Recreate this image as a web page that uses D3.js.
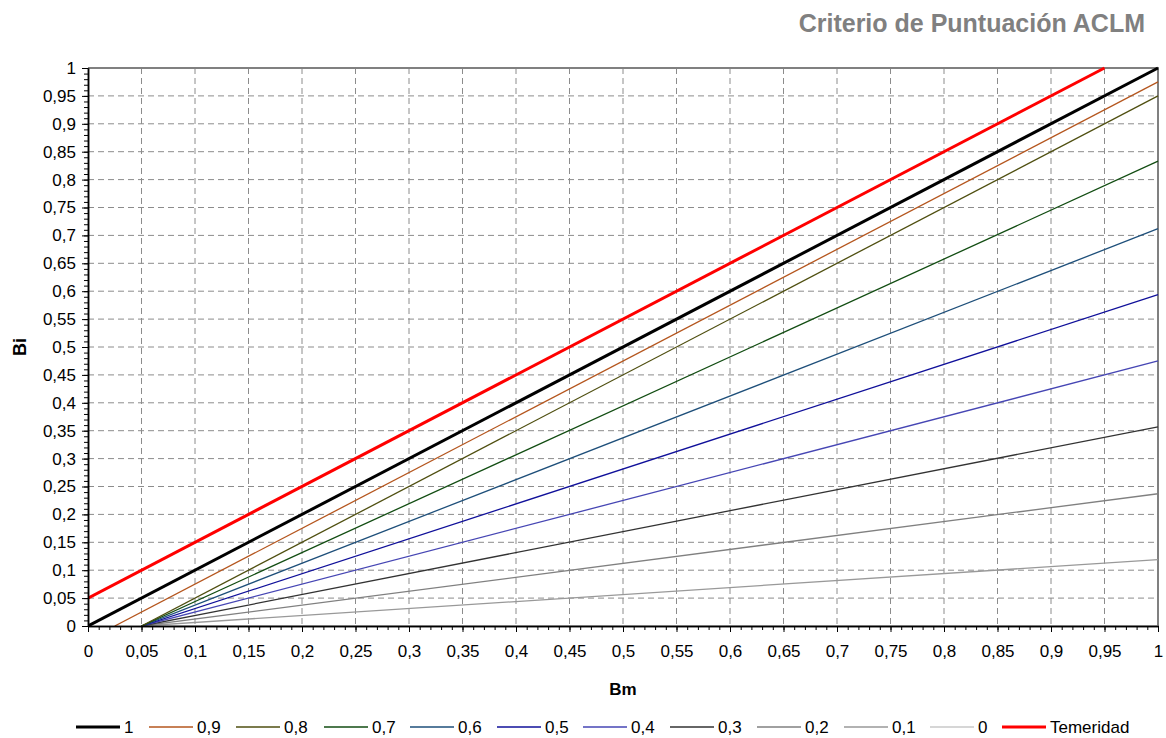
<!DOCTYPE html>
<html><head><meta charset="utf-8">
<script src="https://cdn.jsdelivr.net/npm/d3@7"></script>
<style>body{margin:0;background:#fff;} svg{display:block;font-family:"Liberation Sans",Arial,sans-serif;}</style>
</head><body><svg id="c" width="1166" height="738"></svg>
<script>
const title = "Criterio de Puntuación ACLM";
const xTicks = [0,0.05,0.1,0.15,0.2,0.25,0.3,0.35,0.4,0.45,0.5,0.55,0.6,0.65,0.7,0.75,0.8,0.85,0.9,0.95,1];
const yTicks = xTicks;
const seriesNames = ["1","0,9","0,8","0,7","0,6","0,5","0,4","0,3","0,2","0,1","0","Temeridad"];
const seriesColors = ["#000000","#b5561e","#4f4f10","#124d12","#1e4f7a","#10109a","#4646b4","#333333","#808080","#999999","#c8c8c8","#ff0000"];
const seriesWidths = [3,1.3,1.3,1.3,1.3,1.3,1.3,1.3,1.3,1.3,1.3,3];
// start/end points [Bm, Bi]
const s1   = [[0,0],[1,1]];
const s09  = [[0.025,0],[1,0.975]];
const s08  = [[0.05,0],[1,0.95]];
const s07  = [[0.05,0],[1,0.833]];
const s06  = [[0.05,0],[1,0.712]];
const s05  = [[0.05,0],[1,0.594]];
const s04  = [[0.05,0],[1,0.475]];
const s03  = [[0.05,0],[1,0.357]];
const s02  = [[0.05,0],[1,0.237]];
const s01  = [[0.05,0],[1,0.119]];
const s0   = [[0.05,0],[1,0]];
const sTem = [[0,0.05],[0.95,1]];
const seriesData = [s1,s09,s08,s07,s06,s05,s04,s03,s02,s01,s0,sTem];

const svg = d3.select("#c");
const L=88,R=1158,T=68,B=626;
const x = d3.scaleLinear().domain([0,1]).range([L,R]);
const y = d3.scaleLinear().domain([0,1]).range([B,T]);
const fmt = d => String(+d.toFixed(2)).replace(".",",");

// grid
const g = svg.append("g");
g.selectAll(".vg").data(xTicks.filter(d=>d>0&&d<1)).join("line")
  .attr("x1",d=>x(d)).attr("x2",d=>x(d)).attr("y1",T).attr("y2",B)
  .attr("stroke","#8c8c8c").attr("stroke-width",1).attr("stroke-dasharray","6,4");
g.selectAll(".hg").data(yTicks.filter(d=>d>0&&d<1)).join("line")
  .attr("y1",d=>y(d)).attr("y2",d=>y(d)).attr("x1",L).attr("x2",R)
  .attr("stroke","#8c8c8c").attr("stroke-width",1).attr("stroke-dasharray","6,4");
// top/right border
svg.append("path").attr("d",`M${L},${T}H${R}V${B}`).attr("fill","none").attr("stroke","#808080").attr("stroke-width",2);

// series
const line = d3.line().x(d=>x(d[0])).y(d=>y(d[1]));
svg.append("clipPath").attr("id","cp").append("rect").attr("x",L).attr("y",T-2).attr("width",R-L+2).attr("height",B-T+2);
svg.append("g").attr("clip-path","url(#cp)").selectAll("path").data(seriesData.map((d,i)=>({d,i})).reverse()).join("path")
  .attr("d",o=>line(o.d)).attr("fill","none")
  .attr("stroke",o=>seriesColors[o.i]).attr("stroke-width",o=>seriesWidths[o.i]);

// axes
const minor = d3.range(0,1.0001,0.01);
const xa = svg.append("g").attr("transform",`translate(0,${B})`);
xa.call(d3.axisBottom(x).tickValues(minor).tickFormat("").tickSize(4).tickSizeOuter(0));
xa.append("g").call(d3.axisBottom(x).tickValues(xTicks).tickFormat(fmt).tickSize(6).tickSizeOuter(0).tickPadding(13));
const ya = svg.append("g").attr("transform",`translate(${L},0)`);
ya.call(d3.axisLeft(y).tickValues(minor).tickFormat("").tickSize(4).tickSizeOuter(0));
ya.append("g").call(d3.axisLeft(y).tickValues(yTicks).tickFormat(fmt).tickSize(6).tickSizeOuter(0).tickPadding(6));
svg.selectAll(".domain").attr("stroke","#000").attr("stroke-width",1.5);
svg.selectAll(".tick line").attr("stroke","#000");
svg.selectAll(".tick text").attr("font-size",17).attr("fill","#000").attr("font-family","Liberation Sans, Arial, sans-serif");
xa.selectAll(".tick text").attr("dy","0.71em");

// titles
svg.append("text").attr("x",1145).attr("y",32).attr("text-anchor","end").attr("font-size",25).attr("font-weight","bold").attr("fill","#808080").text(title);
svg.append("text").attr("x",623).attr("y",695).attr("text-anchor","middle").attr("font-size",17).attr("font-weight","bold").text("Bm");
svg.append("text").attr("transform","translate(26,347) rotate(-90)").attr("text-anchor","middle").attr("font-size",18).attr("font-weight","bold").text("Bi");

// legend
const legX = [76,149,236,324,410,497,583,670,757,844,930,1002];
const lg = svg.append("g");
seriesNames.forEach((n,i)=>{
  const lw = 44;
  lg.append("line").attr("x1",legX[i]).attr("x2",legX[i]+lw).attr("y1",727).attr("y2",727)
    .attr("stroke",seriesColors[i]).attr("stroke-width",seriesWidths[i]);
  lg.append("text").attr("x",legX[i]+lw+4).attr("y",733).attr("font-size",17).text(n);
});
</script></body></html>
